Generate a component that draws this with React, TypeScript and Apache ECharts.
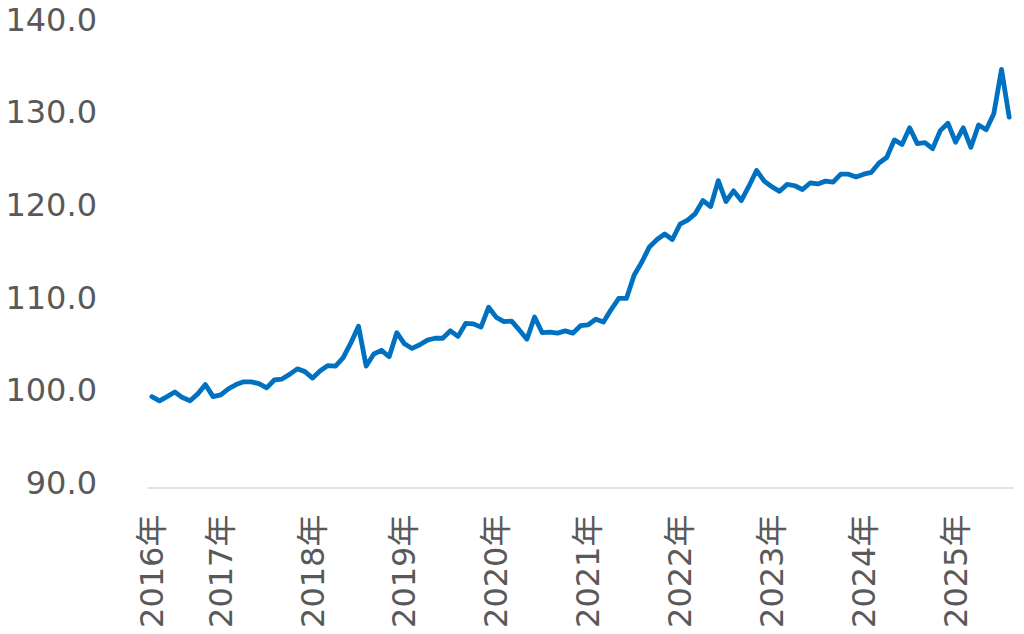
import React, { useEffect, useRef } from "react";
import * as echarts from "echarts";

// Monthly categories: April 2016 – August 2025
const startYear = 2016;
const startMonth = 4;
const values: number[] = [
  99.8, 99.35, 99.8, 100.3, 99.7, 99.35, 100.1, 101.1, 99.8, 100.0,
  100.65, 101.1, 101.4, 101.4, 101.2, 100.75, 101.6, 101.7, 102.2, 102.8,
  102.5, 101.8, 102.6, 103.15, 103.1, 104.0, 105.6, 107.4, 103.1, 104.4,
  104.8, 104.1, 106.7, 105.5, 105.0, 105.4, 105.9, 106.1, 106.1, 106.9,
  106.3, 107.7, 107.65, 107.3, 109.45, 108.35, 107.9, 107.95, 107.0, 106.0,
  108.4, 106.7, 106.75, 106.65, 106.9, 106.65, 107.45, 107.55, 108.15, 107.85,
  109.2, 110.4, 110.4, 112.9, 114.3, 115.95, 116.75, 117.35, 116.75, 118.4,
  118.85, 119.55, 120.95, 120.3, 123.1, 120.85, 122.0, 120.95, 122.5, 124.2,
  123.05, 122.45, 121.95, 122.7, 122.55, 122.15, 122.85, 122.75, 123.05, 122.95,
  123.8, 123.8, 123.5, 123.8, 124.0, 125.0, 125.6, 127.5, 127.0, 128.8,
  127.1, 127.2, 126.55, 128.5, 129.3, 127.25, 128.8, 126.7, 129.1, 128.6,
  130.35, 135.1, 129.95,
];

const categories: string[] = values.map((_, i) => {
  const m0 = startMonth - 1 + i;
  const y = startYear + Math.floor(m0 / 12);
  const m = (m0 % 12) + 1;
  return `${y}-${String(m).padStart(2, "0")}`;
});

const yMin = 90;
const yMax = 140;
const yStep = 10;

const FONT = "'DejaVu Sans', Verdana, 'Noto Sans CJK JP', sans-serif";

export default function App() {
  const ref = useRef<HTMLDivElement>(null);
  useEffect(() => {
    if (!ref.current) return;
    const chart = echarts.init(ref.current, undefined, { renderer: "svg" });
    chart.setOption({
      animation: false,
      backgroundColor: "#ffffff",
      grid: { left: 148, right: 11, top: 24, bottom: 146.5, containLabel: false },
      xAxis: {
        type: "category",
        data: categories,
        boundaryGap: true,
        axisLine: { show: true, lineStyle: { color: "#D9D9D9", width: 1.5 } },
        axisTick: { show: false },
        axisLabel: {
          interval: (index: number, value: string) =>
            index === 0 || value.endsWith("-01"),
          formatter: (value: string) => value.slice(0, 4) + "年",
          rotate: 90,
          margin: 27,
          color: "#595959",
          fontSize: 32,
          fontFamily: FONT,
        },
        splitLine: { show: false },
      },
      yAxis: {
        type: "value",
        min: yMin,
        max: yMax,
        interval: yStep,
        axisLine: { show: false },
        axisTick: { show: false },
        splitLine: { show: false },
        axisLabel: {
          formatter: (v: number) => v.toFixed(1),
          color: "#595959",
          fontSize: 32,
          fontFamily: FONT,
          margin: 51,
          verticalAlign: "bottom",
          lineHeight: 9,
        },
      },
      series: [
        {
          type: "line",
          data: values,
          showSymbol: false,
          symbol: "none",
          lineStyle: { color: "#0070C0", width: 4.8, join: "round", cap: "round" },
          itemStyle: { color: "#0070C0" },
        },
      ],
    });
    return () => chart.dispose();
  }, []);
  return (
    <div
      ref={ref}
      style={{ position: "fixed", left: 0, top: 0, width: 1024, height: 634, background: "#fff" }}
    />
  );
}
